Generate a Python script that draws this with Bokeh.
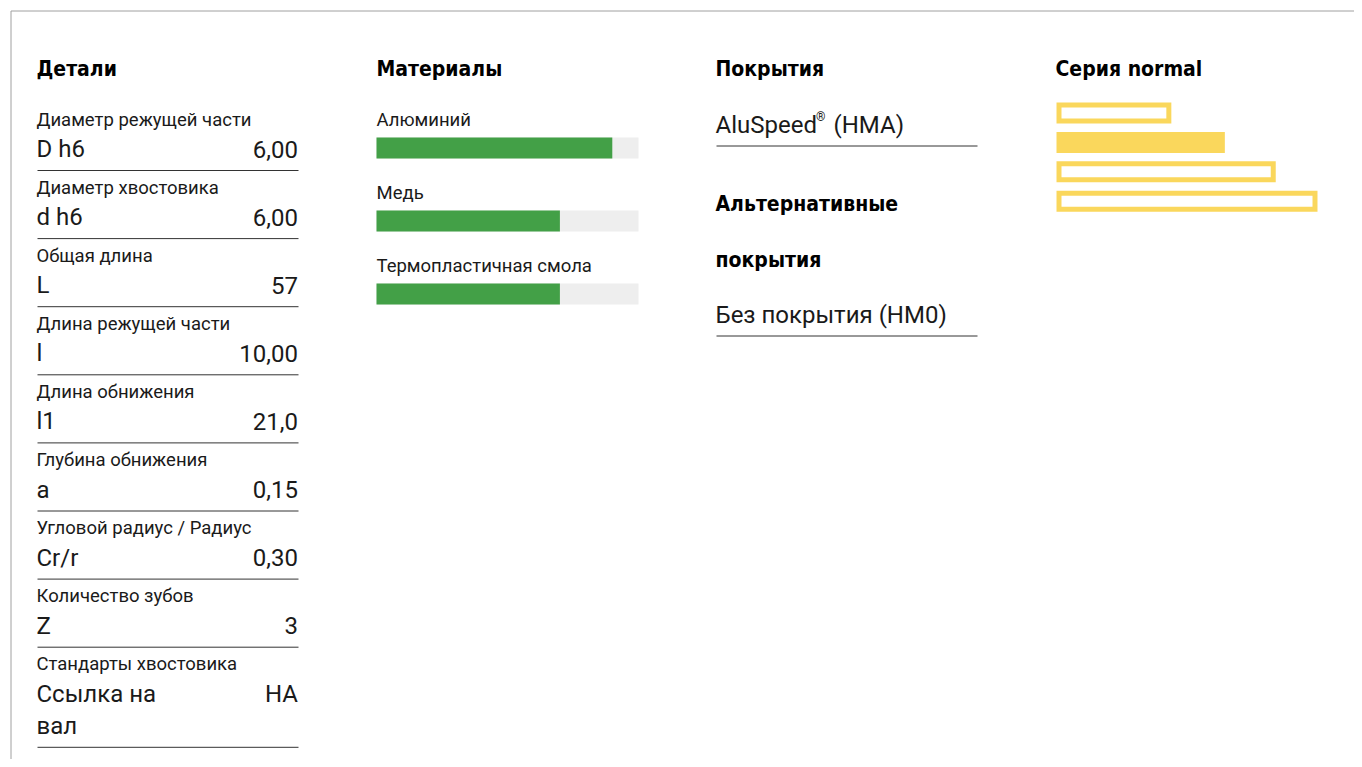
from bokeh.plotting import figure
from bokeh.models import Range1d
from bokeh.core.properties import value
from bokeh.embed import file_html
from bokeh.resources import INLINE

# ---------------- data ----------------
section_titles = ["Детали", "Материалы", "Покрытия", "Серия normal"]

detail_labels = ["Диаметр режущей части", "Диаметр хвостовика", "Общая длина",
                 "Длина режущей части", "Длина обнижения", "Глубина обнижения",
                 "Угловой радиус / Радиус", "Количество зубов", "Стандарты хвостовика"]
detail_symbols = ["D h6", "d h6", "L", "l", "l1", "a", "Cr/r", "Z", "Ссылка на\nвал"]
detail_values = ["6,00", "6,00", "57", "10,00", "21,0", "0,15", "0,30", "3", "НА"]

material_names = ["Алюминий", "Медь", "Термопластичная смола"]
material_scores = [0.90, 0.70, 0.70]

coating_main = ["AluSpeed", "®", "(HMA)"]
alt_title = ["Альтернативные", "покрытия"]
coating_alt = ["Без покрытия (HM0)"]

series_lengths = [0.44, 0.645, 0.84, 1.0]
series_filled = [False, True, False, False]

# ---------------- style ----------------
BODY = value("Roboto")
HEAD = value("DejaVu Sans Condensed")
TXT = "#1a1a1a"
GREEN = "#43a047"
GREYBAR = "#eeeeee"
YELLOW = "#fad75c"
RULE = "#333333"
LAB = "18.5px"
VAL = "24px"
HSZ = "21px"

W, H = 1354, 759
p = figure(width=W, height=H, x_range=Range1d(0, W), y_range=Range1d(H, 0),
           output_backend="svg", toolbar_location=None, min_border=0,
           x_axis_type=None, y_axis_type=None)
p.grid.visible = False
p.outline_line_color = None
p.background_fill_color = "white"

# frame
p.line([10.5, 10.5], [H, 10.5], line_color="#a0a0a0", line_width=1)
p.line([10.5, W], [10.5, 10.5], line_color="#a0a0a0", line_width=1)

col_x = [36, 376, 715, 1055]

# headings
p.text(x=col_x, y=[68] * 4, text=section_titles, text_font=HEAD, text_font_style="bold",
       text_font_size=HSZ, text_color="black", text_baseline="middle")

# ---------------- details ----------------
row_y0, row_dy = 119, 68.1
lab_y, sym_y, sym_t, val_y, rule_y = [], [], [], [], []
for i, (lab, sym, val) in enumerate(zip(detail_labels, detail_symbols, detail_values)):
    y = row_y0 + row_dy * i
    lab_y.append(y)
    lines = sym.split("\n")
    for k, s in enumerate(lines):
        sym_t.append(s)
        sym_y.append(y + 29.5 + 32 * k)
    val_y.append(y + 29.5)
    rule_y.append(y + 50.5 + 32 * (len(lines) - 1))

p.text(x=[36] * len(detail_labels), y=lab_y, text=detail_labels, text_font=BODY,
       text_font_size=LAB, text_color=TXT, text_baseline="middle")
p.text(x=[36] * len(sym_t), y=sym_y, text=sym_t, text_font=BODY,
       text_font_size=VAL, text_color=TXT, text_baseline="middle")
p.text(x=[297.5] * len(detail_values), y=val_y, text=detail_values, text_font=BODY,
       text_font_size=VAL, text_color=TXT, text_baseline="middle", text_align="right")
p.segment(x0=[37] * len(rule_y), x1=[298] * len(rule_y), y0=[r + 0.5 for r in rule_y],
          y1=[r + 0.5 for r in rule_y], line_color=RULE, line_width=1)

# ---------------- materials ----------------
mx0, mw = 376, 262
m_lab_y = [119.5 + 73 * i for i in range(len(material_names))]
bar_top = [137 + 73 * i for i in range(len(material_names))]
bar_bot = [t + 21 for t in bar_top]
p.text(x=[376] * 3, y=m_lab_y, text=material_names, text_font=BODY, text_font_size=LAB,
       text_color=TXT, text_baseline="middle")
p.quad(left=[mx0] * 3, right=[mx0 + mw] * 3, top=bar_top, bottom=bar_bot,
       fill_color=GREYBAR, line_color=None)
p.quad(left=[mx0] * 3, right=[mx0 + mw * s for s in material_scores], top=bar_top,
       bottom=bar_bot, fill_color=GREEN, line_color=None)

# ---------------- coatings ----------------
p.text(x=[715], y=[124.5], text=[coating_main[0]], text_font=BODY, text_font_size=VAL,
       text_color=TXT, text_baseline="middle")
p.text(x=[815.5], y=[116.5], text=[coating_main[1]], text_font=BODY, text_font_size="12px",
       text_color=TXT, text_baseline="middle")
p.text(x=[833], y=[124.5], text=[coating_main[2]], text_font=BODY, text_font_size=VAL,
       text_color=TXT, text_baseline="middle")
p.segment(x0=[716], x1=[977], y0=[145.5], y1=[145.5], line_color=RULE, line_width=1)
p.text(x=[715, 715], y=[203, 259], text=alt_title, text_font=HEAD, text_font_style="bold",
       text_font_size=HSZ, text_color="black", text_baseline="middle")
p.text(x=[715], y=[314.5], text=coating_alt, text_font=BODY, text_font_size=VAL,
       text_color=TXT, text_baseline="middle")
p.segment(x0=[716], x1=[977], y0=[335.5], y1=[335.5], line_color=RULE, line_width=1)

# ---------------- series ----------------
sx0, sw = 1056, 261
s_top = [102 + 29.4 * i for i in range(len(series_lengths))]
s_h = 21
f_idx = [i for i, f in enumerate(series_filled) if f]
o_idx = [i for i, f in enumerate(series_filled) if not f]
p.quad(left=[sx0] * len(f_idx), right=[sx0 + sw * series_lengths[i] for i in f_idx],
       top=[s_top[i] for i in f_idx], bottom=[s_top[i] + s_h for i in f_idx],
       fill_color=YELLOW, line_color=None)
p.quad(left=[sx0 + 2.5] * len(o_idx), right=[sx0 + sw * series_lengths[i] - 2.5 for i in o_idx],
       top=[s_top[i] + 2.5 for i in o_idx], bottom=[s_top[i] + s_h - 2.5 for i in o_idx],
       fill_color=None, line_color=YELLOW, line_width=5, line_join="miter")

open("out.html", "w").write(file_html(p, INLINE))
